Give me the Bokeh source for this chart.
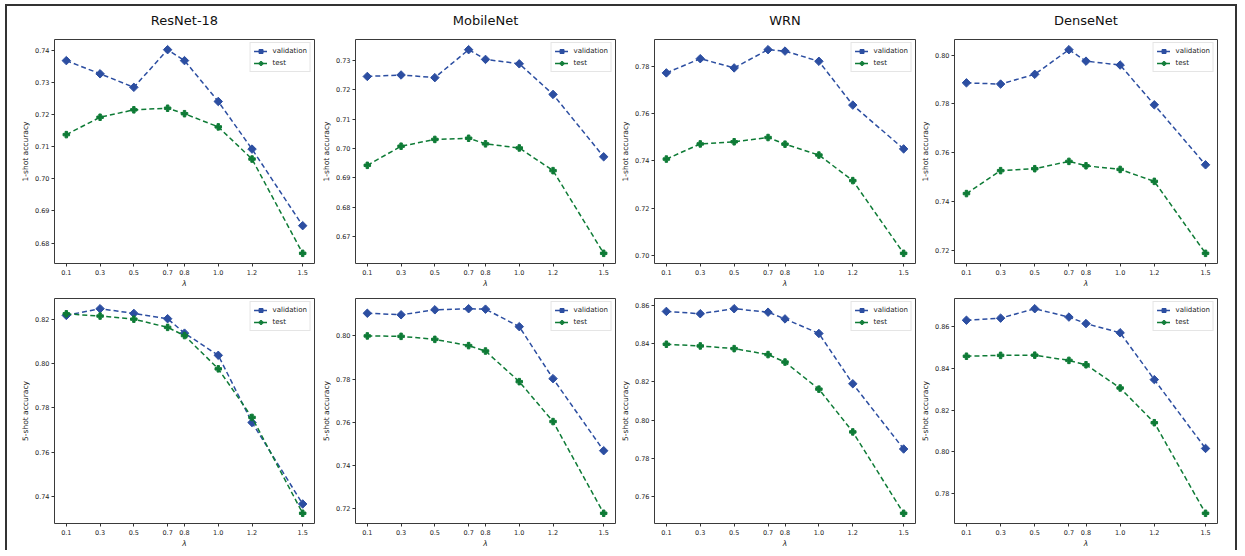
from bokeh.plotting import figure
from bokeh.layouts import column, row
from bokeh.models import FixedTicker, Range1d, LinearAxis
from bokeh.embed import file_html
from bokeh.resources import INLINE

lambdas = [0.1, 0.3, 0.5, 0.7, 0.8, 1.0, 1.2, 1.5]
lambda_labels = ["0.1", "0.3", "0.5", "0.7", "0.8", "1.0", "1.2", "1.5"]
models = ["ResNet-18", "MobileNet", "WRN", "DenseNet"]

# 1-shot accuracy
resnet_1_val = [0.7367, 0.7326, 0.7284, 0.7401, 0.7367, 0.7240, 0.7092, 0.6854]
resnet_1_test = [0.7137, 0.7191, 0.7214, 0.7219, 0.7202, 0.7161, 0.7061, 0.6768]
mobile_1_val = [0.7245, 0.7250, 0.7241, 0.7336, 0.7303, 0.7288, 0.7184, 0.6972]
mobile_1_test = [0.6943, 0.7008, 0.7031, 0.7035, 0.7016, 0.7002, 0.6925, 0.6644]
wrn_1_val = [0.7772, 0.7832, 0.7793, 0.7870, 0.7864, 0.7821, 0.7636, 0.7451]
wrn_1_test = [0.7408, 0.7472, 0.7481, 0.7499, 0.7471, 0.7425, 0.7317, 0.7010]
dense_1_val = [0.7886, 0.7881, 0.7921, 0.8022, 0.7975, 0.7959, 0.7796, 0.7550]
dense_1_test = [0.7432, 0.7526, 0.7534, 0.7564, 0.7546, 0.7531, 0.7482, 0.7187]

# 5-shot accuracy
resnet_5_val = [0.8217, 0.8247, 0.8226, 0.8202, 0.8137, 0.8037, 0.7734, 0.7367]
resnet_5_test = [0.8224, 0.8214, 0.8200, 0.8163, 0.8126, 0.7976, 0.7757, 0.7325]
mobile_5_val = [0.8105, 0.8098, 0.8121, 0.8126, 0.8124, 0.8043, 0.7802, 0.7468]
mobile_5_test = [0.8000, 0.7998, 0.7984, 0.7955, 0.7930, 0.7788, 0.7603, 0.7178]
wrn_5_val = [0.8567, 0.8555, 0.8581, 0.8563, 0.8528, 0.8452, 0.8190, 0.7850]
wrn_5_test = [0.8396, 0.8387, 0.8373, 0.8342, 0.8303, 0.8162, 0.7939, 0.7515]
dense_5_val = [0.8630, 0.8640, 0.8685, 0.8645, 0.8614, 0.8570, 0.8346, 0.8017]
dense_5_test = [0.8458, 0.8462, 0.8463, 0.8438, 0.8417, 0.8306, 0.8140, 0.7707]

# y tick values per panel
ticks_1 = [
    [0.68, 0.69, 0.70, 0.71, 0.72, 0.73, 0.74],
    [0.67, 0.68, 0.69, 0.70, 0.71, 0.72, 0.73],
    [0.70, 0.72, 0.74, 0.76, 0.78],
    [0.72, 0.74, 0.76, 0.78, 0.80],
]
ticks_5 = [
    [0.74, 0.76, 0.78, 0.80, 0.82],
    [0.72, 0.74, 0.76, 0.78, 0.80],
    [0.76, 0.78, 0.80, 0.82, 0.84, 0.86],
    [0.78, 0.80, 0.82, 0.84, 0.86],
]

VAL_COLOR = "#2c4ea1"
TEST_COLOR = "#0e7b36"
FONT = "DejaVu Sans"

# layout geometry (frame width, left border, right border)
col_geom = [(260, 47, 1), (260, 40, 1), (261, 38, 1), (263, 38, 18)]


def make_panel(ci, title, val, test, yticks, ylabel, top):
    fw, bl, br = col_geom[ci]
    if top:
        fh, bt, bb = 224, 33, 26
    else:
        fh, bt, bb = 225, 8, 26
    lo = min(min(val), min(test))
    hi = max(max(val), max(test))
    span = hi - lo
    xspan = lambdas[-1] - lambdas[0]
    p = figure(frame_width=fw, frame_height=fh, output_backend="svg",
               toolbar_location=None,
               min_border_left=bl, min_border_right=br,
               min_border_top=bt, min_border_bottom=bb,
               x_range=Range1d(lambdas[0] - 0.05 * xspan, lambdas[-1] + 0.05 * xspan),
               y_range=Range1d(lo - 0.05 * span, hi + 0.05 * span))
    p.grid.visible = False
    p.outline_line_color = "#3a3a3a"
    p.outline_line_width = 1
    p.background_fill_color = "white"
    p.border_fill_color = "white"

    xax = p.below[0]
    yax = p.left[0]
    for ax in (xax, yax):
        ax.axis_line_color = None
        ax.major_tick_line_color = "#333333"
        ax.major_tick_out = 3
        ax.major_tick_in = 0
        ax.minor_tick_line_color = None
        ax.major_label_text_font = FONT
        ax.major_label_text_font_size = "6.5px"
        ax.major_label_text_color = "#222222"
        ax.axis_label_text_font = FONT
        ax.axis_label_text_font_size = "7.5px"
        ax.axis_label_text_color = "#222222"
        ax.axis_label_text_font_style = "normal"
        ax.major_label_standoff = 2
        ax.axis_label_standoff = 2

    xax.ticker = FixedTicker(ticks=lambdas)
    xax.major_label_overrides = {v: s for v, s in zip(lambdas, lambda_labels)}
    xax.axis_label = "λ"
    xax.axis_label_text_font_style = "italic"
    xax.axis_label_standoff = 1
    xax.major_label_standoff = 3
    yax.ticker = FixedTicker(ticks=yticks)
    yax.major_label_overrides = {v: f"{v:.2f}" for v in yticks}
    yax.axis_label = ylabel

    if title:
        # panel title, drawn as the label of a bare axis above the frame
        tax = LinearAxis(ticker=FixedTicker(ticks=[]), axis_label=title,
                         axis_line_color=None, major_tick_out=0, major_tick_in=0,
                         minor_tick_out=0, minor_tick_in=0,
                         major_tick_line_color=None, minor_tick_line_color=None,
                         major_label_standoff=0, major_label_text_font_size="1px",
                         axis_label_standoff=12,
                         axis_label_text_font=FONT, axis_label_text_font_size="13px",
                         axis_label_text_font_style="normal",
                         axis_label_text_color="#111111")
        p.add_layout(tax, "above")

    p.line(lambdas, val, color=VAL_COLOR, line_width=1.5, line_dash="5 3",
           legend_label="validation")
    p.scatter(lambdas, val, marker="square", angle=0.785398, size=6,
              color=VAL_COLOR, legend_label="validation")
    p.line(lambdas, test, color=TEST_COLOR, line_width=1.5, line_dash="5 3",
           legend_label="test")
    p.scatter(lambdas, test, marker="plus", size=6.5, color=TEST_COLOR,
              legend_label="test")

    lg = p.legend[0]
    lg.location = "top_right"
    lg.label_text_font = FONT
    lg.label_text_font_size = "7px"
    lg.label_text_color = "#222222"
    lg.label_height = 10
    lg.glyph_height = 10
    lg.glyph_width = 14
    lg.spacing = 2
    lg.padding = 3
    lg.margin = 3
    lg.label_standoff = 5
    lg.border_line_color = "#cccccc"
    lg.border_line_width = 1
    lg.background_fill_alpha = 0.9
    return p


one_val = [resnet_1_val, mobile_1_val, wrn_1_val, dense_1_val]
one_test = [resnet_1_test, mobile_1_test, wrn_1_test, dense_1_test]
five_val = [resnet_5_val, mobile_5_val, wrn_5_val, dense_5_val]
five_test = [resnet_5_test, mobile_5_test, wrn_5_test, dense_5_test]

top_row = [make_panel(i, models[i], one_val[i], one_test[i], ticks_1[i],
                      "1-shot accuracy", True) for i in range(4)]
bot_row = [make_panel(i, None, five_val[i], five_test[i], ticks_5[i],
                      "5-shot accuracy", False) for i in range(4)]

layout = column(row(*top_row, spacing=0), row(*bot_row, spacing=0), spacing=0,
                styles={"border-top": "2px solid #333333",
                        "border-left": "2px solid #333333",
                        "border-right": "2px solid #333333",
                        "margin-left": "5px", "margin-top": "4px"})
open("out.html", "w").write(file_html(layout, INLINE))
